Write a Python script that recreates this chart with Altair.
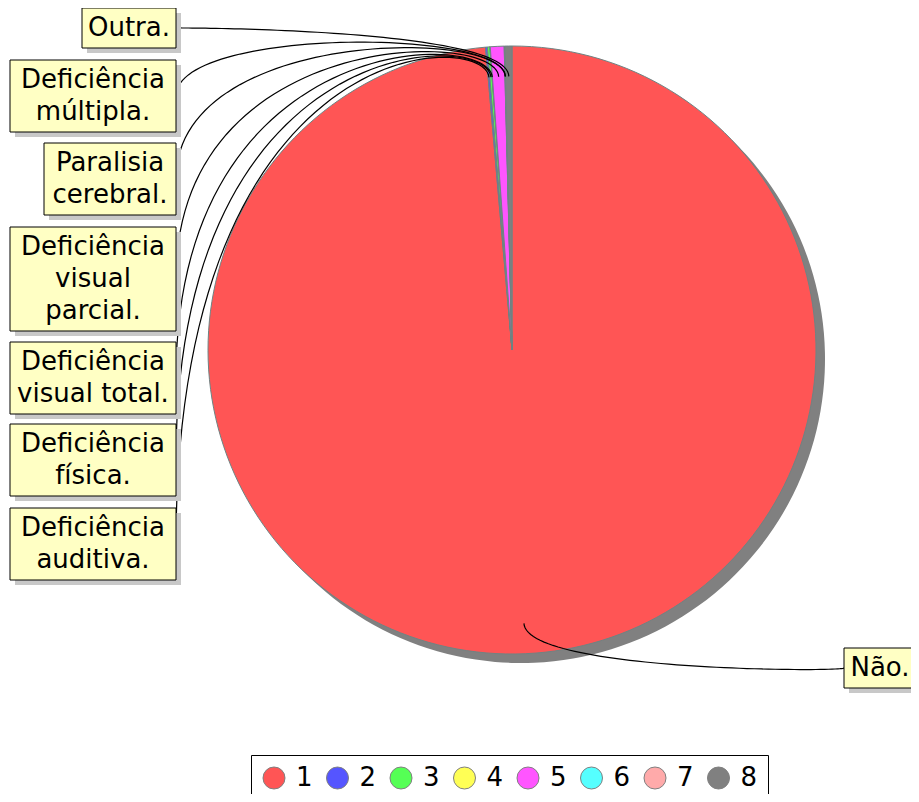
import math
import altair as alt
import pandas as pd

# ---- data ----
codes = ["1", "2", "3", "4", "5", "6", "7", "8"]
categories = ["Não.", "Deficiência auditiva.", "Deficiência física.",
              "Deficiência visual total.", "Deficiência visual parcial.",
              "Paralisia cerebral.", "Deficiência múltipla.", "Outra."]
label_text = ["Não.", "Deficiência\nauditiva.", "Deficiência\nfísica.",
              "Deficiência\nvisual total.", "Deficiência\nvisual\nparcial.",
              "Paralisia\ncerebral.", "Deficiência\nmúltipla.", "Outra."]
values = [98.61, 0.10, 0.13, 0.02, 0.73, 0.02, 0.02, 0.37]
colors = ["#ff5555", "#5555ff", "#55ff55", "#ffff55", "#ff55ff", "#55ffff", "#ffaaaa", "#808080"]

# ---- layout (plot-area pixel coordinates) ----
CX, CY, R = 504, 342, 304
SHADOW = 9
W, H = 903, 786
LINE_H = 32
# label box layout: left, top, right (plot-area pixels) per category
box_left = [836, 2, 2, 2, 2, 36, 2, 74]
box_top = [640, 500, 416, 334, 219, 135, 52, 0]
box_right = [908, 168, 168, 168, 168, 168, 168, 168]

pie_df = pd.DataFrame({"code": codes, "category": categories, "value": values})

total = sum(values)
rows_box, rows_line = [], []
cum = 0.0
for i, (cat, v) in enumerate(zip(categories, values)):
    mid = (cum + v / 2) / total * 2 * math.pi
    cum += v
    n = label_text[i].count("\n") + 1
    x0, x1 = box_left[i], box_right[i]
    y0 = box_top[i]
    y1 = y0 + LINE_H * n + 8
    yc = (y0 + y1) / 2
    rows_box.append({"category": cat, "text": label_text[i], "x": x0, "x2": x1,
                     "y": y0, "y2": y1, "xc": (x0 + x1) / 2,
                     "ty": yc - (n - 1) / 2 * LINE_H,
                     "sx": x0 + 5, "sx2": x1 + 5, "sy": y0 + 5, "sy2": y1 + 5})
    # connector: cubic bezier from label edge to slice
    ax = x0 if i == 0 else x1
    ay = yc
    ex, ey = CX + math.sin(mid) * R * 0.9, CY - math.cos(mid) * R * 0.9
    cx2, cy2 = CX + math.sin(mid) * R * 1.06, CY - math.cos(mid) * R * 1.06
    cx1, cy1 = ax, cy2
    for k in range(61):
        t = k / 60
        a, b, c, d = (1 - t) ** 3, 3 * (1 - t) ** 2 * t, 3 * (1 - t) * t ** 2, t ** 3
        rows_line.append({"category": cat, "t": t,
                          "x": a * ax + b * cx1 + c * cx2 + d * ex,
                          "y": a * ay + b * cy1 + c * cy2 + d * ey})

box_df = pd.DataFrame(rows_box)
line_df = pd.DataFrame(rows_line)

shadow = alt.Chart(pie_df).mark_arc(outerRadius=R, fill="#808080", stroke=None).encode(
    theta=alt.Theta("value:Q", stack=True),
    x=alt.value(CX + SHADOW), y=alt.value(CY + SHADOW),
)

pie = alt.Chart(pie_df).mark_arc(outerRadius=R, stroke="#6f8383", strokeWidth=1).encode(
    theta=alt.Theta("value:Q", stack=True),
    order=alt.Order("code:O"),
    color=alt.Color("code:N", scale=alt.Scale(domain=codes, range=colors),
                    legend=alt.Legend(orient="none", legendX=243, legendY=747,
                                      direction="horizontal", columns=8, title=None,
                                      symbolType="circle", symbolSize=484,
                                      symbolStrokeColor="#808080", symbolStrokeWidth=1,
                                      symbolOpacity=1, labelFontSize=26,
                                      labelFont="DejaVu Sans", labelColor="black",
                                      labelOffset=9, columnPadding=11.5, padding=10,
                                      strokeColor="black", fillColor="white")),
    x=alt.value(CX), y=alt.value(CY),
)

lines = alt.Chart(line_df).mark_line(color="black", strokeWidth=1.2).encode(
    x=alt.X("x:Q", scale=None), y=alt.Y("y:Q", scale=None),
    detail="category:N", order="t:Q",
)

box_shadow = alt.Chart(box_df).mark_rect(fill="#c8c8c8").encode(
    x=alt.X("sx:Q", scale=None), x2="sx2:Q",
    y=alt.Y("sy:Q", scale=None), y2="sy2:Q",
)
boxes = alt.Chart(box_df).mark_rect(fill="#ffffc4", stroke="black", strokeWidth=1).encode(
    x=alt.X("x:Q", scale=None), x2="x2:Q",
    y=alt.Y("y:Q", scale=None), y2="y2:Q",
)
texts = alt.Chart(box_df).mark_text(font="DejaVu Sans", fontSize=26, align="center",
                                    baseline="middle", lineBreak="\n", lineHeight=LINE_H,
                                    color="black").encode(
    x=alt.X("xc:Q", scale=None), y=alt.Y("ty:Q", scale=None), text="text:N",
)

chart = alt.layer(shadow, pie, lines, box_shadow, boxes, texts).properties(
    width=W, height=H, padding=0,
    autosize=alt.AutoSizeParams(type="none"),
).configure_view(stroke=None)

chart.save("out.html", embed_options={"renderer": "svg", "actions": False})
